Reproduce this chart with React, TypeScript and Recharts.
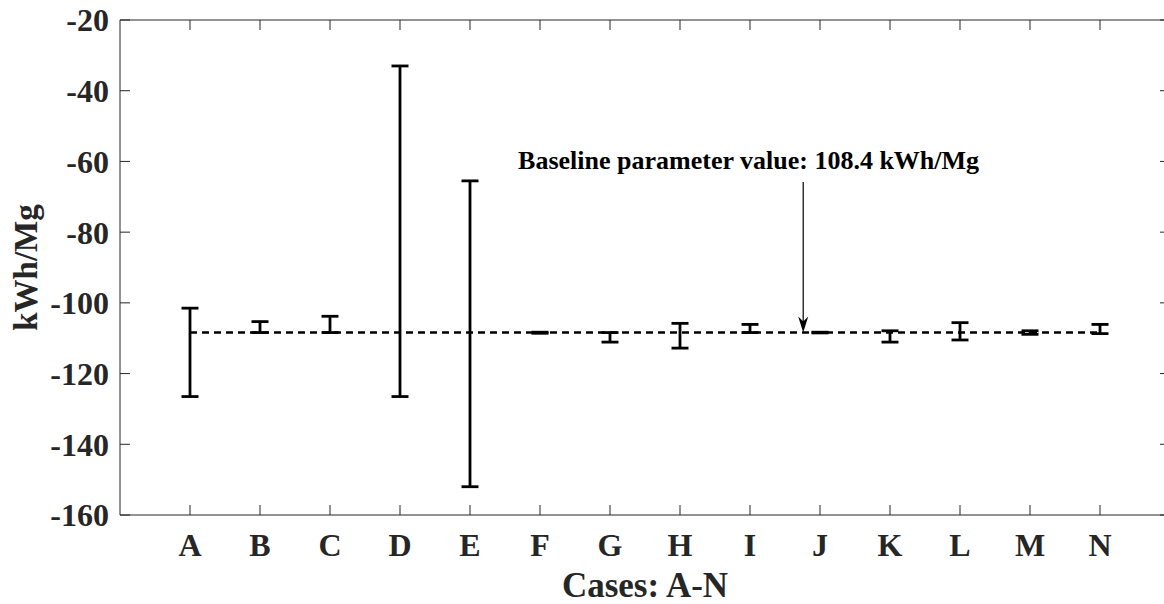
import * as React from "react";
import {
  ComposedChart, Scatter, ErrorBar, XAxis, YAxis, ReferenceLine, ReferenceDot,
} from "recharts";

// MATLAB-style figure: bold Times labels, inward ticks, box axes.
const FONT = "'Liberation Serif', 'Times New Roman', serif";
const INK = "#262626";

const caseLabels = ["A","B","C","D","E","F","G","H","I","J","K","L","M","N"];
const lowValues  = [-126.5,-108.4,-108.4,-126.5,-152.0,-108.6,-111.1,-112.8,-108.4,-108.5,-111.1,-110.5,-108.9,-108.7];
const highValues = [-101.5,-105.3,-103.8, -33.0, -65.5,-108.3,-108.4,-105.8,-106.1,-108.3,-107.9,-105.6,-107.9,-106.1];
const yTicks = [-160,-140,-120,-100,-80,-60,-40,-20];
const xTicks = caseLabels.map((_, i) => i + 1);
const yTop = -20;

const baseline = -108.4;
const arrowX = 9.76;
const arrowTop = -65.8;
const noteX = 8.98;
const noteY = -62.05;
const noteText = "Baseline parameter value: 108.4 kWh/Mg";

const points = caseLabels.map((c, i) => ({
  x: i + 1,
  y: lowValues[i],
  err: [0, highValues[i] - lowValues[i]],
}));

const tickStyle = { fontSize: 32, fontWeight: "bold", fill: INK, fontFamily: FONT };
const noLabel = () => <g/>;
const noMark = () => <g/>;
// inward tick hanging from the top border
const topTick = (p: any) => <line x1={p.cx} y1={p.cy} x2={p.cx} y2={p.cy + 10} stroke={INK} strokeWidth={1}/>;

function Arrow(p: any) {
  const { x1, y1, x2, y2 } = p;
  return (
    <g>
      <line x1={x1} y1={y1} x2={x2} y2={y2 - 10} stroke="#000" strokeWidth={1.2}/>
      <polygon points={`${x2},${y2} ${x2 - 5},${y2 - 16} ${x2},${y2 - 11} ${x2 + 5},${y2 - 16}`} fill="#000"/>
    </g>
  );
}

export default function App() {
  return (
    <div style={{ position: "absolute", left: 0, top: 0, width: 1164, height: 604, overflow: "hidden", background: "#fff" }}>
      <ComposedChart width={1180} height={604} data={points}
        margin={{ top: 19, right: 9, left: 0, bottom: 0 }}>
        <XAxis type="number" dataKey="x" domain={[0, 15]} ticks={xTicks} interval={0}
          tickFormatter={(v: number) => caseLabels[v - 1] ?? ""}
          height={89} stroke={INK} tickSize={-10} tickMargin={28} tick={tickStyle}
          allowDataOverflow
          label={{ value: "Cases: A-N", position: "insideBottom", offset: 7,
            style: { fontSize: 35, fontWeight: "bold", fill: INK, fontFamily: FONT } }}/>
        {/* mirrored box axes (top / right) */}
        <XAxis xAxisId="top" orientation="top" type="number" domain={[0, 15]}
          height={1} stroke={INK} tickLine={false} tick={noLabel} allowDataOverflow/>
        <YAxis type="number" domain={[-160, -20]} ticks={yTicks} interval={0} width={120}
          stroke={INK} tickSize={-10} tickMargin={21} tick={tickStyle} allowDataOverflow
          label={{
            content: (p: any) => {
              const vb = p.viewBox;
              const x = vb.x + 37;
              const y = vb.y + vb.height / 2;
              return (
                <text x={x} y={y} transform={`rotate(-90, ${x}, ${y})`} textAnchor="middle"
                  fontSize={33} fontWeight="bold" fill={INK} fontFamily={FONT}>kWh/Mg</text>
              );
            },
          }}/>
        <YAxis yAxisId="right" orientation="right" type="number" domain={[-160, -20]} ticks={yTicks}
          interval={0} width={1} stroke={INK} tickSize={-10} tick={noLabel} allowDataOverflow/>

        {xTicks.map((x) => (
          <ReferenceDot key={x} x={x} y={yTop} r={0} ifOverflow="visible" shape={topTick}/>
        ))}

        <ReferenceLine segment={[{ x: 1, y: baseline }, { x: 14, y: baseline }]}
          stroke="#000" strokeWidth={2.5} strokeDasharray="7 5"/>
        <ReferenceLine segment={[{ x: arrowX, y: arrowTop }, { x: arrowX, y: baseline }]}
          shape={Arrow}/>
        <ReferenceDot x={noteX} y={noteY} r={0}
          shape={(p: any) => (
            <text x={p.cx} y={p.cy} textAnchor="middle" fontSize={26} fontWeight="bold"
              fill="#000" fontFamily={FONT}>{noteText}</text>
          )}/>

        <Scatter dataKey="y" isAnimationActive={false} shape={noMark} legendType="none">
          <ErrorBar dataKey="err" direction="y" width={8.5} stroke="#000" strokeWidth={2.8}
            isAnimationActive={false}/>
        </Scatter>
      </ComposedChart>
    </div>
  );
}
